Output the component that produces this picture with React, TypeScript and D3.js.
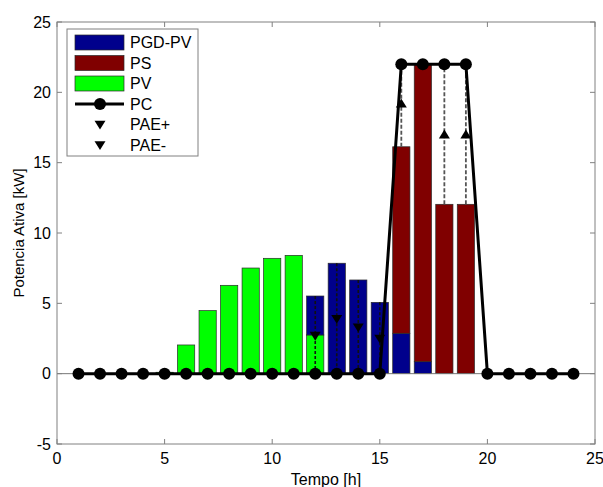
import * as d3 from "d3";

const W = 603;
const H = 487;
const M = { left: 57, right: 8, top: 22, bottom: 43 };

const hours = [1, 2, 3, 4, 5, 6, 7, 8, 9, 10, 11, 12, 13, 14, 15, 16, 17, 18, 19, 20, 21, 22, 23, 24];
// stacked bars, bottom to top
const pv = [0, 0, 0, 0, 0.1, 2.04, 4.48, 6.28, 7.51, 8.2, 8.41, 2.75, 0, 0, 0, 0, 0, 0, 0, 0, 0, 0, 0, 0];
const pgdPv = [0, 0, 0, 0, 0, 0, 0, 0, 0, 0, 0, 2.77, 7.85, 6.66, 5.07, 2.87, 0.85, 0, 0, 0, 0, 0, 0, 0];
const ps = [0, 0, 0, 0, 0, 0, 0, 0, 0, 0, 0, 0, 0, 0, 0, 13.26, 21.15, 12.04, 12.04, 0, 0, 0, 0, 0];
const pc = [0, 0, 0, 0, 0, 0, 0, 0, 0, 0, 0, 0, 0, 0, 0, 22, 22, 22, 22, 0, 0, 0, 0, 0];

// exchange markers: hour and marker value
const paeDownHours = [12, 13, 14, 15];
const paeDownVals = [2.7, 3.9, 3.3, 2.5];
const paeUpHours = [16, 18, 19];
const paeUpVals = [19.2, 17.0, 17.0];

const xTicks = [0, 5, 10, 15, 20, 25];
const yTicks = [-5, 0, 5, 10, 15, 20, 25];

const seriesKeys = ["pv", "pgd", "ps"];
const seriesColors: Record<string, string> = { pv: "#00ff00", pgd: "#00008c", ps: "#800000" };

const legendItems = [
  { label: "PGD-PV", kind: "rect", color: "#00008c" },
  { label: "PS", kind: "rect", color: "#800000" },
  { label: "PV", kind: "rect", color: "#00ff00" },
  { label: "PC", kind: "line" },
  { label: "PAE+", kind: "tri" },
  { label: "PAE-", kind: "tri" },
];

const FONT = "Arial, 'Liberation Sans', Helvetica, sans-serif";
const AXIS = "#808080";

export default function App() {
  const x = d3.scaleLinear().domain([0, 25]).range([M.left, W - M.right]);
  const y = d3.scaleLinear().domain([-5, 25]).range([H - M.bottom, M.top]);

  const rows = hours.map((h, i) => ({ hour: h, pv: pv[i], pgd: pgdPv[i], ps: ps[i] }));
  const stacked = d3.stack<any>().keys(seriesKeys)(rows);
  const totals = rows.map((r) => r.pv + r.pgd + r.ps);

  const bw = x(0.8) - x(0);
  const line = d3.line<number>().x((_, i) => x(hours[i])).y((d) => y(d));

  const tri = (cx: number, cy: number, down: boolean) => {
    const s = 5.5;
    return down
      ? `M${cx - s},${cy - s * 0.7}L${cx + s},${cy - s * 0.7}L${cx},${cy + s * 0.9}Z`
      : `M${cx - s},${cy + s * 0.7}L${cx + s},${cy + s * 0.7}L${cx},${cy - s * 0.9}Z`;
  };

  const x0 = M.left;
  const x1 = W - M.right;
  const yTop = M.top;
  const yBot = H - M.bottom;

  return (
    <svg width={W} height={H} style={{ position: "absolute", left: 0, top: 0, background: "#fff" }} fontFamily={FONT}>
      {/* bars */}
      {stacked.map((s) => (
        <g key={s.key}>
          {s.map((d, i) =>
            d[1] - d[0] > 0 ? (
              <rect
                key={i}
                x={x(hours[i]) - bw / 2}
                width={bw}
                y={y(d[1])}
                height={y(d[0]) - y(d[1])}
                fill={seriesColors[s.key]}
                stroke="#2a2a2a"
                strokeWidth={0.7}
              />
            ) : null
          )}
        </g>
      ))}
      {/* bar baseline */}
      <line x1={x0} x2={x1} y1={y(0)} y2={y(0)} stroke="#777" strokeWidth={1} />

      {/* dashed exchange lines */}
      {paeDownHours.map((h, k) => {
        const i = hours.indexOf(h);
        return (
          <line key={"dd" + k} x1={x(h)} x2={x(h)} y1={y(totals[i])} y2={y(pc[i])} stroke="#111" strokeWidth={1.6} strokeDasharray="3,2" />
        );
      })}
      {paeUpHours.map((h, k) => {
        const i = hours.indexOf(h);
        return (
          <line key={"du" + k} x1={x(h)} x2={x(h)} y1={y(totals[i])} y2={y(pc[i])} stroke="#555" strokeWidth={1.8} strokeDasharray="4,2" />
        );
      })}

      {/* PC line */}
      <path d={line(pc) || ""} fill="none" stroke="#000" strokeWidth={3} />
      {pc.map((v, i) => (
        <circle key={i} cx={x(hours[i])} cy={y(v)} r={6} fill="#000" />
      ))}

      {paeDownHours.map((h, k) => (
        <path key={"td" + k} d={tri(x(h), y(paeDownVals[k]), true)} fill="#000" />
      ))}
      {paeUpHours.map((h, k) => (
        <path key={"tu" + k} d={tri(x(h), y(paeUpVals[k]), false)} fill="#000" />
      ))}

      {/* axes box */}
      <rect x={x0} y={yTop} width={x1 - x0} height={yBot - yTop} fill="none" stroke={AXIS} strokeWidth={1} />
      {xTicks.map((t) => (
        <g key={"xt" + t}>
          <line x1={x(t)} x2={x(t)} y1={yBot} y2={yBot - 5} stroke={AXIS} />
          <line x1={x(t)} x2={x(t)} y1={yTop} y2={yTop + 5} stroke={AXIS} />
          <text x={x(t)} y={yBot + 20} textAnchor="middle" fontSize={16} fill="#000">
            {t}
          </text>
        </g>
      ))}
      {yTicks.map((t) => (
        <g key={"yt" + t}>
          <line x1={x0} x2={x0 + 5} y1={y(t)} y2={y(t)} stroke={AXIS} />
          <line x1={x1} x2={x1 - 5} y1={y(t)} y2={y(t)} stroke={AXIS} />
          <text x={x0 - 6} y={y(t)} dy="0.35em" textAnchor="end" fontSize={16} fill="#000">
            {t}
          </text>
        </g>
      ))}
      <text x={x(12.5)} y={yBot + 41} textAnchor="middle" fontSize={16} fill="#000">
        Tempo [h]
      </text>
      <text transform={`translate(24,${(yTop + yBot) / 2}) rotate(-90)`} textAnchor="middle" fontSize={15} fill="#000">
        Potencia Ativa [kW]
      </text>

      {/* legend */}
      <g transform="translate(67,29)">
        <rect x={0} y={0} width={131} height={127} fill="#fff" stroke={AXIS} strokeWidth={1} />
        {legendItems.map((it, i) => {
          const cy = 13.5 + i * 20.5;
          return (
            <g key={it.label}>
              {it.kind === "rect" && (
                <rect x={8} y={cy - 7.5} width={49} height={15} fill={it.color} stroke="#2a2a2a" strokeWidth={0.7} />
              )}
              {it.kind === "line" && (
                <g>
                  <line x1={8} x2={57} y1={cy} y2={cy} stroke="#000" strokeWidth={3} />
                  <circle cx={33} cy={cy} r={6} fill="#000" />
                </g>
              )}
              {it.kind === "tri" && <path d={tri(33, cy, true)} fill="#000" />}
              <text x={63} y={cy} dy="0.36em" fontSize={16} fill="#000">
                {it.label}
              </text>
            </g>
          );
        })}
      </g>
    </svg>
  );
}
